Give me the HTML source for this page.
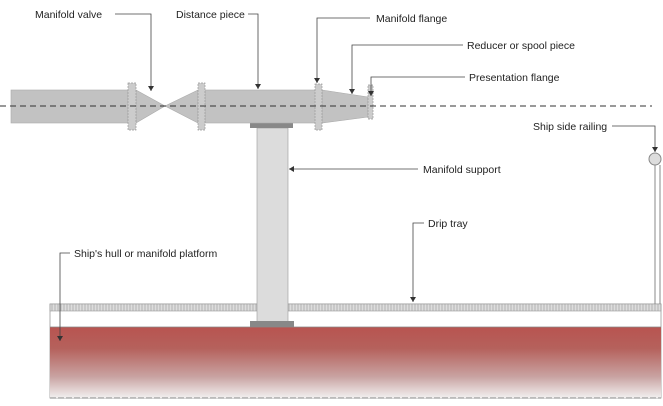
<!DOCTYPE html>
<html><head><style>
body{margin:0;background:#fff;}
svg{display:block;}
text{font-family:"Liberation Sans",sans-serif;font-size:10.5px;fill:#222;}
</style></head><body>
<svg width="663" height="406" viewBox="0 0 663 406">
<defs>
<linearGradient id="red" x1="0" y1="0" x2="0" y2="1">
<stop offset="0" stop-color="#b85450"/>
<stop offset="0.3" stop-color="#b5615c"/>
<stop offset="0.7" stop-color="#c9a3a2"/>
<stop offset="1" stop-color="#f2f0f0"/>
</linearGradient>
<pattern id="hatch" width="3" height="8" patternUnits="userSpaceOnUse">
<rect width="3" height="8" fill="#ddd"/><line x1="1" y1="0" x2="1" y2="8" stroke="#aaa" stroke-width="0.8"/>
</pattern>
<marker id="ar" markerWidth="6" markerHeight="6" refX="5" refY="3" orient="auto" markerUnits="userSpaceOnUse">
<path d="M0,0 L5,3 L0,6 Z" fill="#333"/></marker>
</defs>
<rect x="50" y="304" width="611" height="94" fill="#fff" stroke="#999" stroke-width="0.8"/>
<rect x="50" y="304" width="611" height="7" fill="url(#hatch)" stroke="#999" stroke-width="0.6"/>
<rect x="50" y="327" width="611" height="71" fill="url(#red)"/>
<line x1="50" y1="327" x2="661" y2="327" stroke="#888" stroke-width="0.8"/>
<line x1="50" y1="398" x2="661" y2="398" stroke="#888" stroke-width="1" stroke-dasharray="6,2"/>
<rect x="257" y="128" width="31" height="194" fill="#dcdcdc" stroke="#999" stroke-width="0.6"/>
<rect x="250" y="122" width="43" height="6" fill="#888"/>
<rect x="250" y="321" width="44" height="6" fill="#888"/>
<g fill="#c2c2c2" stroke="#aaa" stroke-width="0.6">
<rect x="11" y="90" width="117" height="33"/>
<polygon points="136,90 165,106 136,123"/>
<polygon points="198,90 165,106 198,123"/>
<rect x="205" y="90" width="111" height="33"/>
<polygon points="322,90 368,97 368,117 322,123"/>
</g>
<g fill="#ccc" stroke="#999" stroke-width="0.7" stroke-dasharray="2,1">
<rect x="128" y="83" width="8" height="47"/>
<rect x="198" y="83" width="7" height="47"/>
<rect x="315" y="84" width="7" height="46"/>
<rect x="368" y="85" width="5" height="34"/>
</g>
<line x1="0" y1="106" x2="652" y2="106" stroke="#333" stroke-width="1" stroke-dasharray="6,4"/>
<line x1="655" y1="165" x2="655" y2="304" stroke="#888"/>
<line x1="660" y1="165" x2="660" y2="304" stroke="#888"/>
<circle cx="655" cy="159" r="6" fill="#ddd" stroke="#888"/>
<g fill="none" stroke="#444" stroke-width="0.8">
<polyline points="115,14 151,14 151,91" marker-end="url(#ar)"/>
<polyline points="248,14 258,14 258,89" marker-end="url(#ar)"/>
<polyline points="370,18 317,18 317,83" marker-end="url(#ar)"/>
<polyline points="463,45 352,45 352,94" marker-end="url(#ar)"/>
<polyline points="465,77 371,77 371,96" marker-end="url(#ar)"/>
<polyline points="612,126 655,126 655,152" marker-end="url(#ar)"/>
<polyline points="418,169 289,169" marker-end="url(#ar)"/>
<polyline points="424,223 413,223 413,302" marker-end="url(#ar)"/>
<polyline points="70,253 60,253 60,341" marker-end="url(#ar)"/>
</g>
<text x="35" y="18">Manifold valve</text>
<text x="176" y="18">Distance piece</text>
<text x="376" y="22">Manifold flange</text>
<text x="467" y="49">Reducer or spool piece</text>
<text x="469" y="81">Presentation flange</text>
<text x="533" y="130">Ship side railing</text>
<text x="423" y="173">Manifold support</text>
<text x="428" y="227">Drip tray</text>
<text x="74" y="257">Ship's hull or manifold platform</text>
</svg>
</body></html>
